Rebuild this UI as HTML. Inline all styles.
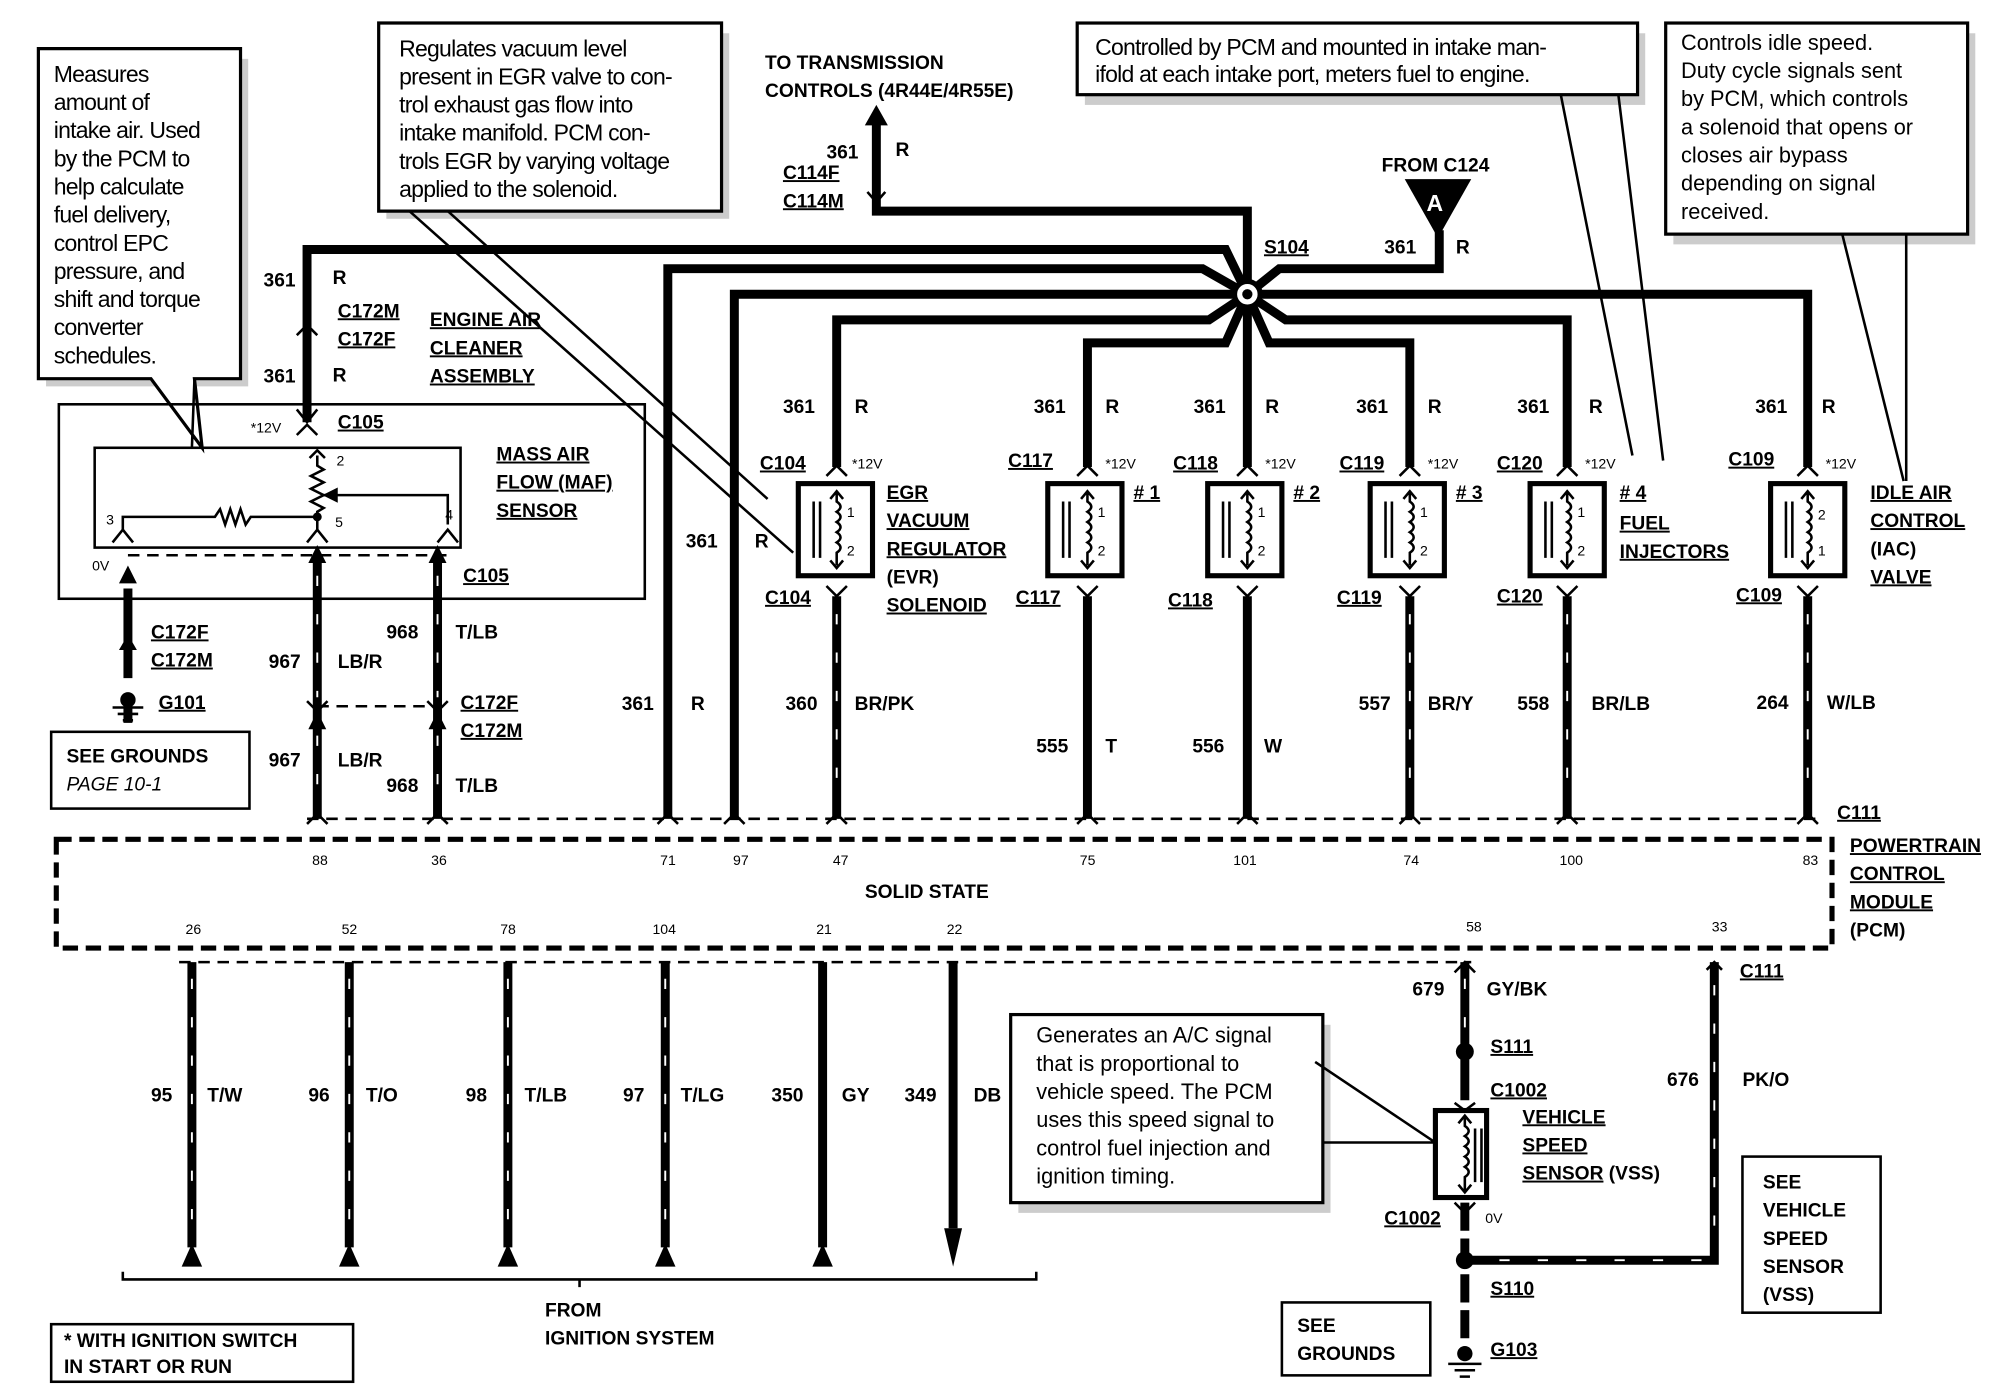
<!DOCTYPE html>
<html><head><meta charset="utf-8"><style>
html,body{margin:0;padding:0;background:#fff;}
svg{display:block}
.b{font-family:"Liberation Sans",sans-serif;font-weight:bold;font-size:15px;fill:#000}
.u{text-decoration:underline}
.s{font-family:"Liberation Sans",sans-serif;font-size:11px;fill:#000}
.n{font-family:"Liberation Sans Narrow","Liberation Sans",sans-serif;font-size:18px;fill:#000;letter-spacing:-0.6px}
.w{font-family:"Liberation Sans",sans-serif;font-size:17px;fill:#000}
.k{stroke:#000;stroke-width:7;fill:none}
.t{stroke:#000;stroke-width:2;fill:none}
.d{stroke:#000;stroke-width:2;fill:none;stroke-dasharray:9 6}
.cb{fill:#fff;stroke:#000;stroke-width:2.5}
.sh{fill:#ccc}
.st{stroke:#fff;stroke-width:1.5;fill:none;stroke-dasharray:8 22}
</style></head><body>
<svg width="2006" height="1392" viewBox="0 0 1568 1088" preserveAspectRatio="none" xmlns="http://www.w3.org/2000/svg">
<rect width="1568" height="1088" fill="#fff"/>

<rect x="36" y="46" width="158" height="256" class="sh"/>
<path d="M30 38 H188 V296 H152 L158 350 L118 296 H30 Z" class="cb"/>
<g class="n"><text x="42" y="64">Measures</text><text x="42" y="86">amount of</text><text x="42" y="108">intake air.  Used</text><text x="42" y="130">by the PCM to</text><text x="42" y="152">help calculate</text><text x="42" y="174">fuel delivery,</text><text x="42" y="196">control EPC</text><text x="42" y="218">pressure, and</text><text x="42" y="240">shift and torque</text><text x="42" y="262">converter</text><text x="42" y="284">schedules.</text></g>
<rect x="302" y="26" width="268" height="145" class="sh"/>
<path d="M320 165 L620 432 M350 165 L600 390" class="t"/>
<path d="M296 18 H564 V165 H296 Z" class="cb"/>
<g class="n"><text x="312" y="44">Regulates vacuum level</text><text x="312" y="66">present in EGR valve to con-</text><text x="312" y="88">trol exhaust gas flow into</text><text x="312" y="110">intake manifold. PCM con-</text><text x="312" y="132">trols EGR by varying voltage</text><text x="312" y="154">applied to the solenoid.</text></g>
<rect x="848" y="26" width="438" height="56" class="sh"/>
<rect x="842" y="18" width="438" height="56" class="cb"/>
<path d="M1220 74 L1276 356 M1265 74 L1300 360" class="t"/>
<g class="n"><text x="856" y="43">Controlled by PCM and mounted in intake man-</text><text x="856" y="64">ifold at each intake port, meters fuel to engine.</text></g>
<rect x="1308" y="26" width="236" height="165" class="sh"/>
<rect x="1302" y="18" width="236" height="165" class="cb"/>
<path d="M1440 183 L1488 376 M1490 183 L1490 376" class="t"/>
<g class="w"><text x="1314" y="39">Controls idle speed.</text><text x="1314" y="61">Duty cycle signals sent</text><text x="1314" y="83">by PCM, which controls</text><text x="1314" y="105">a solenoid that opens or</text><text x="1314" y="127">closes air bypass</text><text x="1314" y="149">depending on signal</text><text x="1314" y="171">received.</text></g>
<rect x="796" y="801" width="244" height="147" class="sh"/>
<rect x="790" y="793" width="244" height="147" class="cb"/>
<path d="M1034 893 L1122 893 M1028 830 L1122 893" class="t"/>
<g class="w"><text x="810" y="815">Generates an A/C signal</text><text x="810" y="837">that is proportional to</text><text x="810" y="859">vehicle speed. The PCM</text><text x="810" y="881">uses this speed signal to</text><text x="810" y="903">control fuel injection and</text><text x="810" y="925">ignition timing.</text></g>
<path d="M118 296 L158 350 M152 296 L150 350" class="t"/>

<rect x="46" y="316" width="458" height="152" class="t" stroke-width="3"/>
<rect x="74" y="350" width="286" height="78" class="t" stroke-width="3"/>
<path d="M96 414 L96 404 H168 l4 -6 4 12 4 -12 4 12 4 -12 4 12 4 -6 H248" class="t"/>
<path d="M248 356 v8 l5 3 -10 5 10 5 -10 5 10 5 -10 5 10 5 -5 3 v14" class="t"/>
<path d="M252 387 H350 V410" class="t"/><path d="M252 387 l12 -6 v12 z"/>
<circle cx="248" cy="404" r="3.5"/>
<path d="M88 424 l8 -10 8 10 M240 424 l8 -10 8 10 M342 424 l8 -10 8 10" class="t" stroke-width="2.5"/>
<path d="M242 358 l6 -6 6 6" class="t" stroke-width="2.5"/>
<g class="s"><text x="263" y="364">2</text><text x="262" y="412">5</text><text x="83" y="410">3</text><text x="348" y="406">4</text><text x="196" y="338">*12V</text><text x="72" y="446">0V</text></g>
<g class="b"><text x="388" y="360" class="u">MASS AIR</text><text x="388" y="382" class="u">FLOW (MAF)</text><text x="388" y="404" class="u">SENSOR</text>
<text x="264" y="335" class="u">C105</text><text x="362" y="455" class="u">C105</text></g>
<path d="M100 434 H350" class="d"/>

<g class="k">
<path d="M240 330 V195 H958 L975 230"/>
<path d="M522 640 V210 H940 L975 230"/>
<path d="M574 640 V230 H1413 V365"/>
<path d="M654 365 V250 H945 L975 230"/>
<path d="M850 365 V268 H958 L975 230"/>
<path d="M975 365 V165 H685 V95"/>
<path d="M1102 365 V268 H992 L975 230"/>
<path d="M1225 365 V250 H1005 L975 230"/>
<path d="M1125 180 V210 H1000 L975 230"/>
</g>
<polygon points="685,82 676,98 694,98"/>
<path d="M678 150 l7 8 7 -8" class="t" stroke-width="3"/>
<circle cx="975" cy="230" r="10" fill="#fff" stroke="#000" stroke-width="4"/>
<circle cx="975" cy="230" r="4"/>
<polygon points="1098,140 1150,140 1124,186"/>
<text x="1115" y="165" class="b" style="fill:#fff;font-size:18px">A</text>
<path d="M232 320 l8 10 8 -10" class="t" stroke-width="3"/>
<path d="M232 340 l8 -8 8 8" class="t" stroke-width="3"/>
<path d="M232 262 l8 -8 8 8" class="t" stroke-width="3"/>

<g class="b">
<text x="598" y="54">TO TRANSMISSION</text><text x="598" y="76">CONTROLS (4R44E/4R55E)</text>
<text x="646" y="124">361</text><text x="700" y="122">R</text>
<text x="612" y="140" class="u">C114F</text><text x="612" y="162" class="u">C114M</text>
<text x="1080" y="134">FROM C124</text>
<text x="988" y="198" class="u">S104</text>
<text x="1082" y="198">361</text><text x="1138" y="198">R</text>
<text x="206" y="224">361</text><text x="260" y="222">R</text>
<text x="264" y="248" class="u">C172M</text><text x="264" y="270" class="u">C172F</text>
<text x="206" y="299">361</text><text x="260" y="298">R</text>
<text x="336" y="255" class="u">ENGINE AIR</text><text x="336" y="277" class="u">CLEANER</text><text x="336" y="299" class="u">ASSEMBLY</text>
<text x="536" y="428">361</text><text x="590" y="428">R</text>
</g>

<g class="t" stroke-width="3">
<path d="M646 372 l8 -8 8 8 M842 372 l8 -8 8 8 M967 372 l8 -8 8 8 M1094 372 l8 -8 8 8 M1217 372 l8 -8 8 8 M1405 372 l8 -8 8 8"/>
<path d="M646 458 l8 8 8 -8 M842 458 l8 8 8 -8 M967 458 l8 8 8 -8 M1094 458 l8 8 8 -8 M1217 458 l8 8 8 -8 M1405 458 l8 8 8 -8"/>
</g>
<g stroke="#000" stroke-width="4" fill="#fff">
<rect x="624" y="378" width="58" height="72"/><rect x="819" y="378" width="58" height="72"/><rect x="944" y="378" width="58" height="72"/><rect x="1071" y="378" width="58" height="72"/><rect x="1196" y="378" width="58" height="72"/><rect x="1384" y="378" width="58" height="72"/>
</g>
<g class="t">
<path d="M636 392 V436 M641 392 V436 M831 392 V436 M836 392 V436 M956 392 V436 M961 392 V436 M1083 392 V436 M1088 392 V436 M1208 392 V436 M1213 392 V436 M1396 392 V436 M1401 392 V436"/>
</g>
<g class="t" id="coil">
<path d="M654 384 v8 q6 4 0 8 q6 4 0 8 q6 4 0 8 q6 4 0 8 q6 4 0 8 v10 M649 390 l5 -6 5 6 M649 438 l5 6 5 -6"/>
</g>
<use href="#coil" x="196"/><use href="#coil" x="321"/><use href="#coil" x="448"/><use href="#coil" x="571"/><use href="#coil" x="759"/>
<g class="s">
<text x="662" y="404">1</text><text x="662" y="434">2</text>
<text x="858" y="404">1</text><text x="858" y="434">2</text>
<text x="983" y="404">1</text><text x="983" y="434">2</text>
<text x="1110" y="404">1</text><text x="1110" y="434">2</text>
<text x="1233" y="404">1</text><text x="1233" y="434">2</text>
<text x="1421" y="406">2</text><text x="1421" y="434">1</text>
<text x="666" y="366">*12V</text><text x="864" y="366">*12V</text><text x="989" y="366">*12V</text><text x="1116" y="366">*12V</text><text x="1239" y="366">*12V</text><text x="1427" y="366">*12V</text>
</g>
<g class="b">
<text x="612" y="323">361</text><text x="668" y="323">R</text>
<text x="808" y="323">361</text><text x="864" y="323">R</text>
<text x="933" y="323">361</text><text x="989" y="323">R</text>
<text x="1060" y="323">361</text><text x="1116" y="323">R</text>
<text x="1186" y="323">361</text><text x="1242" y="323">R</text>
<text x="1372" y="323">361</text><text x="1424" y="323">R</text>
<text x="594" y="367" class="u">C104</text><text x="788" y="365" class="u">C117</text><text x="917" y="367" class="u">C118</text><text x="1047" y="367" class="u">C119</text><text x="1170" y="367" class="u">C120</text><text x="1351" y="364" class="u">C109</text>
<text x="598" y="472" class="u">C104</text><text x="794" y="472" class="u">C117</text><text x="913" y="474" class="u">C118</text><text x="1045" y="472" class="u">C119</text><text x="1170" y="471" class="u">C120</text><text x="1357" y="470" class="u">C109</text>
<text x="693" y="390" class="u">EGR</text><text x="693" y="412" class="u">VACUUM</text><text x="693" y="434" class="u">REGULATOR</text><text x="693" y="456">(EVR)</text><text x="693" y="478" class="u">SOLENOID</text>
<text x="886" y="390" class="u"># 1</text><text x="1011" y="390" class="u"># 2</text><text x="1138" y="390" class="u"># 3</text>
<text x="1266" y="390" class="u"># 4</text><text x="1266" y="414" class="u">FUEL</text><text x="1266" y="436" class="u">INJECTORS</text>
<text x="1462" y="390" class="u">IDLE AIR</text><text x="1462" y="412" class="u">CONTROL</text><text x="1462" y="434">(IAC)</text><text x="1462" y="456" class="u">VALVE</text>
</g>

<g class="k">
<path d="M654 466 V640 M850 466 V640 M975 466 V640 M1102 466 V640 M1225 466 V640 M1413 466 V640"/>
<path d="M100 460 V530 M100 548 V565"/>
<path d="M248 434 V640 M342 434 V640"/>
</g>
<path class="st" d="M654 480 V630 M1102 480 V630 M1225 480 V630 M1413 480 V630 M248 450 V545 M248 575 V630 M342 450 V545 M342 575 V630"/>
<polygon points="100,442 93,456 107,456"/><polygon points="248,426 241,440 255,440"/><polygon points="342,426 335,440 349,440"/>
<polygon points="248,556 241,570 255,570"/><polygon points="342,556 335,570 349,570"/>
<polygon points="100,496 93,508 107,508"/>
<path d="M248 552 H342" class="d"/>
<path d="M240 548 l8 8 8 -8 M334 548 l8 8 8 -8" class="t" stroke-width="3"/>
<path d="M88 553 H112 M92 558 H108 M96 563 H104" class="t"/><circle cx="100" cy="547" r="6"/>
<path d="M240 640 H1420" class="d"/>
<g class="t" stroke-width="3"><path d="M240 644 l8 -8 8 8 M334 644 l8 -8 8 8 M514 644 l8 -8 8 8 M566 644 l8 -8 8 8 M646 644 l8 -8 8 8 M842 644 l8 -8 8 8 M967 644 l8 -8 8 8 M1094 644 l8 -8 8 8 M1217 644 l8 -8 8 8 M1405 644 l8 -8 8 8"/></g>
<g class="b">
<text x="118" y="499" class="u">C172F</text><text x="118" y="521" class="u">C172M</text><text x="124" y="554" class="u">G101</text>
<text x="210" y="522">967</text><text x="264" y="522">LB/R</text><text x="302" y="499">968</text><text x="356" y="499">T/LB</text>
<text x="360" y="554" class="u">C172F</text><text x="360" y="576" class="u">C172M</text>
<text x="210" y="599">967</text><text x="264" y="599">LB/R</text><text x="302" y="619">968</text><text x="356" y="619">T/LB</text>
<text x="486" y="555">361</text><text x="540" y="555">R</text>
<text x="614" y="555">360</text><text x="668" y="555">BR/PK</text>
<text x="810" y="588">555</text><text x="864" y="588">T</text>
<text x="932" y="588">556</text><text x="988" y="588">W</text>
<text x="1062" y="555">557</text><text x="1116" y="555">BR/Y</text>
<text x="1186" y="555">558</text><text x="1244" y="555">BR/LB</text>
<text x="1373" y="554">264</text><text x="1428" y="554">W/LB</text>
<text x="1436" y="640" class="u">C111</text>
<text x="1446" y="666" class="u">POWERTRAIN</text><text x="1446" y="688" class="u">CONTROL</text><text x="1446" y="710" class="u">MODULE</text><text x="1446" y="732">(PCM)</text>
<text x="676" y="702">SOLID STATE</text>
<text x="1360" y="764" class="u">C111</text>
</g>
<rect x="40" y="572" width="155" height="60" class="t"/>
<text x="52" y="596" class="b">SEE GROUNDS</text>
<text x="52" y="618" class="b" style="font-weight:normal;font-style:italic">PAGE 10-1</text>

<rect x="44" y="656" width="1388" height="85" fill="none" stroke="#000" stroke-width="4" stroke-dasharray="12 6"/>
<g class="s">
<text x="244" y="676">88</text><text x="337" y="676">36</text><text x="516" y="676">71</text><text x="573" y="676">97</text><text x="651" y="676">47</text><text x="844" y="676">75</text><text x="964" y="676">101</text><text x="1097" y="676">74</text><text x="1219" y="676">100</text><text x="1409" y="676">83</text>
<text x="145" y="730">26</text><text x="267" y="730">52</text><text x="391" y="730">78</text><text x="510" y="730">104</text><text x="638" y="730">21</text><text x="740" y="730">22</text><text x="1146" y="728">58</text><text x="1338" y="728">33</text>
</g>

<path d="M140 752 H1150" class="d"/>
<g class="k"><path d="M150 752 V975 M273 752 V975 M397 752 V975 M520 752 V975 M643 752 V975 M745 752 V960"/></g>
<path class="st" d="M150 765 V965 M273 765 V965 M397 765 V965 M520 765 V965"/>
<g><polygon points="150,972 142,990 158,990"/><polygon points="273,972 265,990 281,990"/><polygon points="397,972 389,990 405,990"/><polygon points="520,972 512,990 528,990"/><polygon points="643,972 635,990 651,990"/><polygon points="738,960 752,960 745,990"/></g>
<path d="M96 994 V1000 H810 V994 M453 1000 L453 1006" class="t" stroke-width="3"/>
<g class="b">
<text x="118" y="861">95</text><text x="162" y="861">T/W</text>
<text x="241" y="861">96</text><text x="286" y="861">T/O</text>
<text x="364" y="861">98</text><text x="410" y="861">T/LB</text>
<text x="487" y="861">97</text><text x="532" y="861">T/LG</text>
<text x="603" y="861">350</text><text x="658" y="861">GY</text>
<text x="707" y="861">349</text><text x="761" y="861">DB</text>
<text x="426" y="1029">FROM</text><text x="426" y="1051">IGNITION SYSTEM</text>
</g>
<rect x="40" y="1035" width="236" height="45" class="t"/>
<text x="50" y="1053" class="b">* WITH IGNITION SWITCH</text><text x="50" y="1073" class="b">IN START OR RUN</text>

<g class="k">
<path d="M1145 752 V860"/>
<path d="M1145 940 V1050" stroke-dasharray="22 6"/>
<path d="M1340 752 V985 H1150"/>
</g>
<path class="st" d="M1145 765 V810 M1340 770 V975 M1330 985 H1160"/>
<circle cx="1145" cy="822" r="7"/><circle cx="1145" cy="985" r="7"/>
<path d="M1137 760 l8 -8 8 8 M1334 758 l6 -6 6 6 M1137 862 l8 6 8 -6 M1137 940 l8 8 8 -8" class="t" stroke-width="3"/>
<rect x="1122" y="868" width="40" height="68" stroke="#000" stroke-width="4" fill="#fff"/>
<path d="M1145 872 v8 q6 4 0 8 q6 4 0 8 q6 4 0 8 q6 4 0 8 q6 4 0 8 v12 M1140 878 l5 -6 5 6 M1140 926 l5 6 5 -6 M1153 882 V924 M1158 882 V924" class="t"/>
<circle cx="1145" cy="1058" r="6"/><path d="M1132 1066 H1158 M1137 1071 H1153 M1141 1076 H1149" class="t"/>
<g class="b">
<text x="1104" y="778">679</text><text x="1162" y="778">GY/BK</text>
<text x="1165" y="823" class="u">S111</text>
<text x="1165" y="857" class="u">C1002</text>
<text x="1190" y="878" class="u">VEHICLE</text><text x="1190" y="900" class="u">SPEED</text><text x="1190" y="922"><tspan class="u">SENSOR</tspan> (VSS)</text>
<text x="1082" y="957" class="u">C1002</text>
<text x="1303" y="849">676</text><text x="1362" y="849">PK/O</text>
<text x="1165" y="1012" class="u">S110</text>
<text x="1165" y="1060" class="u">G103</text>
<text x="1014" y="1041">SEE</text><text x="1014" y="1063">GROUNDS</text>
<text x="1378" y="929">SEE</text><text x="1378" y="951">VEHICLE</text><text x="1378" y="973">SPEED</text><text x="1378" y="995">SENSOR</text><text x="1378" y="1017">(VSS)</text>
</g>
<text x="1161" y="956" class="s">0V</text>
<rect x="1002" y="1018" width="116" height="57" class="t"/>
<rect x="1362" y="904" width="108" height="122" class="t"/>
</svg>
</body></html>
